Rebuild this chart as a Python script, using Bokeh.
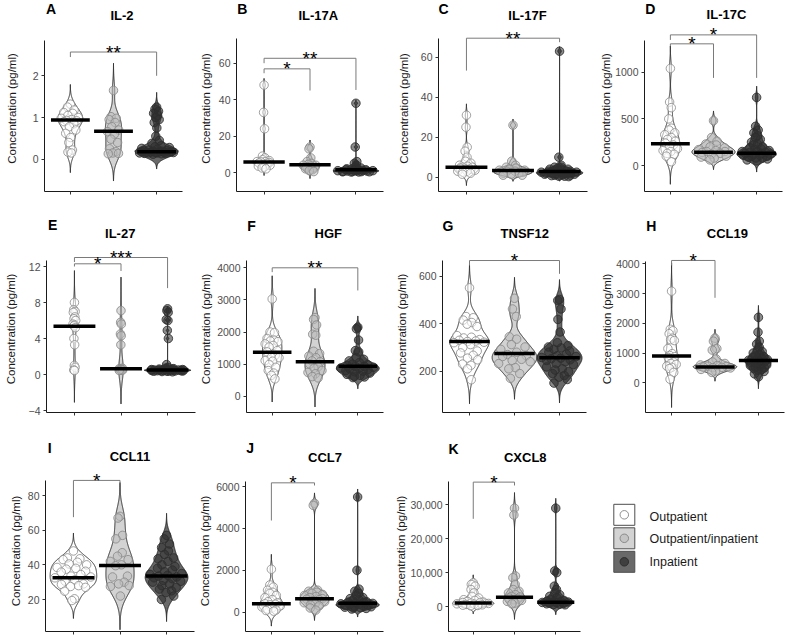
import numpy as np
from bokeh.plotting import figure
from bokeh.layouts import row, column
from bokeh.models import Range1d, FixedTicker, NumeralTickFormatter, ColumnDataSource
from bokeh.core.properties import value
from bokeh.embed import file_html
from bokeh.resources import INLINE

FONT = "Liberation Sans"

# ---------------------------------------------------------------- data
groups = ["Outpatient", "Outpatient/inpatient", "Inpatient"]
analytes = ["IL-2", "IL-17A", "IL-17F", "IL-17C", "IL-27", "HGF", "TNSF12",
            "CCL19", "CCL11", "CCL7", "CXCL8"]
panel_letters = ["A", "B", "C", "D", "E", "F", "G", "H", "I", "J", "K"]

il2_out = [1.32, 1.25, 1.18, 1.12, 1.10, 1.05, 1.00, 0.98, 0.95, 0.93, 0.92, 0.90, 0.85,
           0.78, 0.70, 0.62, 0.52, 0.40, 0.22, 0.17, 0.15]
il2_mix = [1.65, 1.02, 0.98, 0.95, 0.88, 0.78, 0.70, 0.66, 0.60, 0.48, 0.40, 0.25, 0.18,
           0.15, 0.14, 0.13]
il2_inp = [1.25, 1.20, 1.15, 1.10, 1.05, 1.00, 0.95, 0.88, 0.75, 0.55, 0.45, 0.38, 0.32,
           0.30, 0.28, 0.26, 0.24, 0.22, 0.21, 0.20, 0.19, 0.19, 0.18, 0.18, 0.18, 0.17,
           0.17, 0.17, 0.16, 0.16, 0.16, 0.15, 0.15, 0.15, 0.14, 0.14, 0.13, 0.12]

il17a_out = [48, 33, 24, 9, 8, 7, 6.5, 6, 6, 5.8, 5.5, 5.2, 5, 4.5, 4, 3.5, 3, 2.5, 2]
il17a_mix = [14, 13, 8, 6, 5, 4.5, 4, 4, 3.5, 3, 2.5, 2, 1.5, 1, 0.5]
il17a_inp = [38, 14, 6, 5, 4, 3, 2.5, 2, 2, 1.8, 1.5, 1.5, 1.2, 1.2, 1, 1, 1, 0.8, 0.8,
             0.6, 0.5, 0.5, 0.4, 0.4, 0.3, 0.3]

il17f_out = [31, 25, 15, 13, 10, 8, 7, 6, 5.5, 5, 5, 4.5, 4, 4, 3.5, 3, 3, 2.5, 2, 1.5]
il17f_mix = [26, 8, 6, 5, 4.5, 4, 3.5, 3.5, 3, 3, 2.5, 2, 2, 1.5, 1, 1]
il17f_inp = [63, 10, 6, 5, 5, 4.5, 4, 4, 3.5, 3.5, 3, 3, 3, 2.8, 2.5, 2.5, 2.5, 2.2, 2, 2,
             2, 1.8, 1.5, 1.5, 1.2, 1, 1, 0.8, 0.5, 0.5, 0.3]

il17c_out = [1040, 680, 620, 500, 400, 380, 350, 330, 300, 280, 260, 240, 220, 200, 180,
             160, 150, 130, 120, 100, 40]
il17c_mix = [480, 300, 260, 230, 220, 200, 190, 170, 160, 150, 150, 140, 130, 120, 100,
             90, 80, 60]
il17c_inp = [730, 420, 380, 350, 320, 300, 280, 250, 230, 220, 200, 190, 180, 170, 160,
             150, 150, 140, 140, 130, 130, 120, 120, 110, 110, 100, 100, 90, 80, 80, 70,
             60, 50]

il27_out = [8.0, 7.2, 7.0, 6.9, 6.4, 6.2, 6.0, 5.6, 5.5, 5.4, 5.2, 4.0, 3.3, 1.0, 0.8,
            0.5, 0.45]
il27_mix = [7.1, 5.8, 5.6, 4.5, 4.3, 3.3, 0.7, 0.65, 0.6, 0.6, 0.55, 0.55, 0.5, 0.5, 0.5,
            0.45]
il27_inp = [7.3, 7.1, 6.9, 6.1, 6.0, 4.9, 4.0, 1.1, 0.8, 0.7, 0.65, 0.6, 0.6, 0.58, 0.55,
            0.55, 0.52, 0.5, 0.5, 0.5, 0.5, 0.48, 0.48, 0.46, 0.45, 0.45, 0.44, 0.42, 0.4,
            0.4, 0.38, 0.36, 0.35, 0.33, 0.3]

hgf_out = [3030, 2000, 1980, 1800, 1750, 1720, 1700, 1630, 1580, 1530, 1420, 1380, 1270,
           1210, 1200, 1110, 1090, 990, 900, 800, 720, 650, 540]
hgf_mix = [2450, 2390, 2220, 1930, 1900, 1400, 1330, 1250, 1200, 1100, 1070, 1000, 920,
           870, 800, 740, 700, 610, 570]
hgf_inp = [2150, 2100, 1750, 1420, 1380, 1200, 1150, 1100, 1050, 1000, 980, 950, 930, 920,
           900, 880, 870, 850, 830, 800, 780, 760, 720, 680, 650, 620, 600, 580]

tnsf12_out = [551, 430, 425, 415, 405, 398, 388, 350, 343, 340, 333, 330, 327, 325, 322,
              320, 312, 300, 285, 277, 267, 255, 248, 230, 225, 210, 164]
tnsf12_mix = [507, 462, 430, 345, 335, 312, 302, 292, 280, 270, 265, 262, 250, 245, 240,
              232, 215, 210, 190, 170]
tnsf12_inp = [502, 498, 462, 418, 365, 320, 308, 302, 298, 292, 285, 280, 272, 265, 262,
              258, 255, 252, 248, 245, 240, 232, 228, 218, 210, 205, 198, 190, 182, 175,
              165, 150]

ccl19_out = [3080, 1800, 1750, 1650, 1500, 1450, 1420, 1150, 980, 920, 880, 850, 700, 650,
             620, 560, 520, 480, 350, 120]
ccl19_mix = [1500, 1400, 1150, 1100, 800, 700, 650, 600, 580, 560, 550, 530, 520, 510, 500,
             450, 400, 350]
ccl19_inp = [2200, 1700, 1400, 1300, 1200, 1100, 1050, 1000, 950, 900, 880, 850, 820, 800,
             780, 760, 740, 720, 700, 680, 650, 630, 600, 580, 550, 520, 500, 480, 450,
             420, 380, 300, 200]

ccl11_out = [48, 44, 43.5, 43, 41.5, 40.5, 40, 38.5, 38, 37.5, 36.3, 35.8, 34.4, 33.5, 33,
             32.5, 31.3, 30.6, 29, 28.7, 28, 27.5, 27, 24.8, 20.4, 19.4]
ccl11_mix = [68, 67, 57, 55, 47, 45, 43, 42, 40, 39.5, 33.5, 33, 30, 29, 28, 27.5, 22]
ccl11_inp = [57, 55, 52, 50, 48, 46, 44, 43.5, 42, 40, 39, 38, 37, 36, 35, 34.5, 34, 33.5,
             33, 32.5, 32, 31, 30.5, 30, 29, 28, 27, 26, 25, 24, 22, 20]

ccl7_out = [2050, 1300, 1200, 1050, 950, 900, 800, 700, 600, 500, 450, 400, 380, 350, 300,
            250, 200, 150, 100, 80, 50]
ccl7_mix = [5200, 5100, 1050, 1000, 950, 900, 850, 800, 750, 700, 650, 620, 600, 550, 500,
            450, 400, 350, 300, 200, 100]
ccl7_inp = [5500, 2000, 1100, 1000, 900, 800, 700, 650, 600, 550, 500, 480, 460, 440, 420,
            400, 380, 360, 340, 320, 300, 280, 260, 240, 220, 200, 180, 150]

cxcl8_out = [7000, 6500, 6000, 5000, 4000, 3000, 2500, 2000, 1800, 1500, 1300, 1200, 1100,
             1000, 900, 800, 700, 600, 500, 400, 300, 200]
cxcl8_mix = [29000, 27000, 9000, 8500, 6500, 5000, 4500, 4000, 3500, 3000, 2800, 2500,
             2200, 2000, 1800, 1500, 1000, 800]
cxcl8_inp = [29000, 10500, 10000, 6000, 5000, 4000, 3500, 3000, 2500, 2000, 1800, 1600,
             1500, 1400, 1300, 1200, 1100, 1000, 900, 800, 700, 600, 500]

values = {
    "IL-2": (il2_out, il2_mix, il2_inp),
    "IL-17A": (il17a_out, il17a_mix, il17a_inp),
    "IL-17F": (il17f_out, il17f_mix, il17f_inp),
    "IL-17C": (il17c_out, il17c_mix, il17c_inp),
    "IL-27": (il27_out, il27_mix, il27_inp),
    "HGF": (hgf_out, hgf_mix, hgf_inp),
    "TNSF12": (tnsf12_out, tnsf12_mix, tnsf12_inp),
    "CCL19": (ccl19_out, ccl19_mix, ccl19_inp),
    "CCL11": (ccl11_out, ccl11_mix, ccl11_inp),
    "CCL7": (ccl7_out, ccl7_mix, ccl7_inp),
    "CXCL8": (cxcl8_out, cxcl8_mix, cxcl8_inp),
}

medians = {
    "IL-2": [0.94, 0.67, 0.18],
    "IL-17A": [5.8, 4.2, 1.5],
    "IL-17F": [5.0, 3.3, 2.8],
    "IL-17C": [232, 143, 132],
    "IL-27": [5.37, 0.63, 0.5],
    "HGF": [1370, 1070, 930],
    "TNSF12": [325, 275, 257],
    "CCL19": [900, 527, 750],
    "CCL11": [32.5, 39.6, 33.5],
    "CCL7": [398, 637, 430],
    "CXCL8": [1000, 2750, 1280],
}

# (group a, group b, bar level, tip at a, tip at b, stars)
comparisons = {
    "IL-2": [(1, 3, 2.57, 2.45, 2.0, "**")],
    "IL-17A": [(1, 2, 56.9, 54.5, 45, "*"), (1, 3, 62.7, 60, 45.3, "**")],
    "IL-17F": [(1, 3, 69.5, 53.3, 67.5, "**")],
    "IL-17C": [(1, 2, 1304, 1279, 939, "*"), (1, 3, 1400, 1346, 939, "*")],
    "IL-27": [(1, 2, 12.3, 12.0, 11.5, "*"), (1, 3, 13.0, 12.5, 9.6, "***")],
    "HGF": [(1, 3, 4000, 3865, 3294, "**")],
    "TNSF12": [(1, 3, 666, 645, 610, "*")],
    "CCL19": [(1, 2, 4112, 3944, 2857, "*")],
    "CCL11": [(1, 2, 88.7, 67.5, 86.7, "*")],
    "CCL7": [(1, 2, 6175, 4377, 6048, "*")],
    "CXCL8": [(1, 2, 36690, 25870, 35700, "*")],
}

y_ticks = {
    "IL-2": [0, 1, 2],
    "IL-17A": [0, 20, 40, 60],
    "IL-17F": [0, 20, 40, 60],
    "IL-17C": [0, 500, 1000],
    "IL-27": [-4, 0, 4, 8, 12],
    "HGF": [0, 1000, 2000, 3000, 4000],
    "TNSF12": [200, 400, 600],
    "CCL19": [0, 1000, 2000, 3000, 4000],
    "CCL11": [20, 40, 60, 80],
    "CCL7": [0, 2000, 4000, 6000],
    "CXCL8": [0, 10000, 20000, 30000],
}

# ---------------------------------------------------------------- page geometry
COL_X = [0, 196, 392, 588]
COL_W = [196, 196, 196, 197]
ROW_Y = [0, 210, 420]
ROW_H = [210, 210, 217]
HEAD_H = [22, 30, 45]          # strip above each plot that holds letter and title
FRAME_TOP = [25, 245, 470]
FRAME_BOTTOM = [191, 412, 631]

# cell, pixel x of first/third group, two (value, pixel y) references,
# pixel y of axis top, title centre, letter position, y-title centre x
geometry = {
    "IL-2":   dict(cell=(0, 0), gx=(70, 156), yref=((0, 158.7), (2, 75.3)), top=40,
                   title=(110, 15), letter=(2, 8), ylab=14),
    "IL-17A": dict(cell=(1, 0), gx=(263, 355), yref=((0, 172), (60, 62.7)), top=38.3,
                   title=(305, 15), letter=(197, 8), ylab=207),
    "IL-17F": dict(cell=(2, 0), gx=(466, 559), yref=((0, 176.7), (60, 56.7)), top=38.3,
                   title=(509, 15), letter=(392, 8), ylab=406),
    "IL-17C": dict(cell=(3, 0), gx=(670, 756), yref=((0, 165), (1000, 71.7)), top=40,
                   title=(705, 14), letter=(589, 8), ylab=609),
    "IL-27":  dict(cell=(0, 1), gx=(74, 166.7), yref=((0, 374), (12, 266)), top=260,
                   title=(97, 233), letter=(2, 224), ylab=12.5),
    "HGF":    dict(cell=(1, 1), gx=(271.7, 357.3), yref=((0, 395.7), (4000, 267.3)), top=260,
                   title=(313, 233), letter=(197, 225), ylab=208),
    "TNSF12": dict(cell=(2, 1), gx=(469.3, 559), yref=((200, 370.7), (600, 275.7)), top=260,
                   title=(504, 233), letter=(392, 225), ylab=404),
    "CCL19":  dict(cell=(3, 1), gx=(671, 757.7), yref=((0, 382.3), (4000, 263.3)), top=260.7,
                   title=(704, 233), letter=(589, 225), ylab=609),
    "CCL11":  dict(cell=(0, 2), gx=(72.7, 165.7), yref=((20, 599), (80, 495)), top=480,
                   title=(111, 456), letter=(3, 447), ylab=17.5),
    "CCL7":   dict(cell=(1, 2), gx=(271, 357.3), yref=((0, 611.7), (6000, 486)), top=480.7,
                   title=(309, 457), letter=(197, 447), ylab=207.5),
    "CXCL8":  dict(cell=(2, 2), gx=(471.7, 555), yref=((0, 606), (30000, 504.3)), top=480.7,
                   title=(506, 457), letter=(392, 448), ylab=404),
}

VIOLIN_FILL = ["#ffffff", "#d3d3d3", "#696969"]
POINT_FILL = ["#ffffff", "#bdbdbd", "#2e2e2e"]
POINT_LINE = ["#8f8f8f", "#8a8a8a", "#2e2e2e"]
VIOLIN_WIDTH = 1.0


def bw_nrd0(x):
    hi = x.std(ddof=1)
    q75, q25 = np.percentile(x, [75, 25])
    lo = min(hi, (q75 - q25) / 1.34)
    if lo == 0:
        lo = hi or abs(x[0]) or 1.0
    return 0.9 * lo * len(x) ** -0.2


def density(x):
    bw = bw_nrd0(x)
    grid = np.linspace(x.min() - 3 * bw, x.max() + 3 * bw, 512)
    d = np.exp(-0.5 * ((grid[:, None] - x[None, :]) / bw) ** 2).sum(1)
    return grid, d / (len(x) * bw * np.sqrt(2 * np.pi))


def van_der_corput(n):
    out = []
    for i in range(1, n + 1):
        v, denom, k = 0.0, 1.0, i
        while k:
            denom *= 2
            k, r = divmod(k, 2)
            v += r / denom
        out.append(v)
    return np.array(out)


def label_width(s, size):
    w = 0.0
    for ch in s:
        w += 0.556 if ch.isdigit() else (0.278 if ch in ",." else 0.584)
    return w * size


def blank(width, height, x_start, y_top):
    """A figure without axes whose data units are page pixels (y grows downwards)."""
    f = figure(width=width, height=height, x_range=Range1d(x_start, x_start + width),
               y_range=Range1d(y_top + height, y_top), min_border=0,
               toolbar_location=None, output_backend="svg",
               x_axis_location=None, y_axis_location=None, outline_line_color=None,
               background_fill_color="white", border_fill_color="white")
    f.grid.visible = False
    return f


def make_header(k, name):
    g = geometry[name]
    c, r = g["cell"]
    hdr = blank(COL_W[c], HEAD_H[r], COL_X[c], ROW_Y[r])
    hdr.text(x=[g["letter"][0]], y=[g["letter"][1]], text=[panel_letters[k]],
             text_font=value(FONT), text_font_size=value("14px"), text_font_style="bold",
             text_align="left", text_baseline="middle", text_color="black")
    hdr.text(x=[g["title"][0]], y=[g["title"][1]], text=[name],
             text_font=value(FONT), text_font_size=value("13px"), text_font_style="bold",
             text_align="center", text_baseline="middle", text_color="black")
    return hdr


def make_panel(name):
    g = geometry[name]
    c, r = g["cell"]
    x0, w = COL_X[c], COL_W[c]
    y0, h = ROW_Y[r] + HEAD_H[r], ROW_H[r] - HEAD_H[r]
    ppu_x = (g["gx"][1] - g["gx"][0]) / 2
    ml = int(round(g["gx"][0] - 0.6 * ppu_x - x0))
    mr = int(round(x0 + w - (g["gx"][1] + 0.6 * ppu_x)))
    f_left = x0 + ml
    (va, pa), (vb, pb) = g["yref"]
    ppu_y = (pa - pb) / (vb - va)

    def yval(py):
        return va + (pa - py) / ppu_y

    ftop, fbot = FRAME_TOP[r], FRAME_BOTTOM[r]
    y_lo, y_hi = yval(fbot), yval(ftop)

    p = figure(width=w, height=h, x_range=Range1d(0.4, 3.6), y_range=Range1d(y_lo, y_hi),
               min_border_left=ml, min_border_right=mr,
               min_border_top=ftop - y0, min_border_bottom=y0 + h - fbot,
               toolbar_location=None, output_backend="svg",
               background_fill_color="white", border_fill_color="white",
               outline_line_color=None)
    p.grid.visible = False

    # axes: unlabeled group ticks below, bounded value axis on the left
    ticks = y_ticks[name]
    p.xaxis.ticker = FixedTicker(ticks=[], minor_ticks=[1, 2, 3])
    p.xaxis.minor_tick_out = 3
    p.xaxis.minor_tick_in = 0
    p.xaxis.minor_tick_line_color = "#333333"
    p.xaxis.major_label_standoff = 0
    p.yaxis.ticker = FixedTicker(ticks=ticks)
    p.yaxis.bounds = (y_lo, yval(g["top"]))
    if name == "CXCL8":
        p.yaxis.formatter = NumeralTickFormatter(format="0,0")
        tick_text = ["{:,}".format(t) for t in ticks]
    else:
        tick_text = [str(t) for t in ticks]
    for ax in (p.xaxis[0], p.yaxis[0]):
        ax.axis_line_color = "#1a1a1a"
        ax.axis_line_width = 1
        ax.major_tick_line_color = "#333333"
        ax.major_tick_out = 3
        ax.major_tick_in = 0
    p.yaxis.minor_tick_line_color = None
    p.yaxis.major_label_standoff = 3
    p.yaxis.major_label_text_font = FONT
    p.yaxis.major_label_text_font_size = "10.5px"
    p.yaxis.major_label_text_color = "#4d4d4d"
    p.yaxis.axis_label = "Concentration (pg/ml)"
    p.yaxis.axis_label_text_font = FONT
    p.yaxis.axis_label_text_font_size = "11.5px"
    p.yaxis.axis_label_text_font_style = "normal"
    p.yaxis.axis_label_text_color = "#1a1a1a"
    lw = max(label_width(t, 10.5) for t in tick_text)
    p.yaxis.axis_label_standoff = max(0, int(round((f_left - 6 - lw) - (g["ylab"] + 6.5))))

    # violins, computed per group and scaled so that every violin has the same area
    dens = [density(np.asarray(v, float)) for v in values[name]]
    dmax = max(d.max() for _, d in dens)
    for i, (grid, d) in enumerate(dens):
        half = d / dmax * VIOLIN_WIDTH / 2
        xs = np.concatenate([(i + 1) - half, ((i + 1) + half)[::-1]])
        ys = np.concatenate([grid, grid[::-1]])
        p.patch(xs, ys, fill_color=VIOLIN_FILL[i], line_color="#1a1a1a", line_width=0.9)

    # points spread inside the violin outline (quasi-random sina layout)
    for i, (grid, d) in enumerate(dens):
        yv = np.asarray(values[name][i], float)
        half = d / dmax * VIOLIN_WIDTH / 2
        u = 2 * van_der_corput(len(yv)) - 1
        xv = (i + 1) + u * np.interp(yv, grid, half) * 0.85
        p.scatter(xv, yv, marker="circle", size=8.5, fill_color=POINT_FILL[i],
                  fill_alpha=0.55, line_color=POINT_LINE[i], line_alpha=0.85, line_width=1)

    # median bars
    med = medians[name]
    p.segment(x0=[1 - 0.45, 2 - 0.45, 3 - 0.45], x1=[1 + 0.45, 2 + 0.45, 3 + 0.45],
              y0=med, y1=med, line_color="black", line_width=3.5)

    # significance brackets
    comps = comparisons[name]
    p.multi_line(xs=[[a, a, b, b] for a, b, *_ in comps],
                 ys=[[ta, lvl, lvl, tb] for _, _, lvl, ta, tb, _ in comps],
                 line_color="#7a7a7a", line_width=1)
    star_src = ColumnDataSource(dict(x=[(a + b) / 2 for a, b, *_ in comps],
                                     y=[c[2] for c in comps],
                                     t=[c[5] for c in comps]))
    p.text(x="x", y="y", text="t", source=star_src, text_font=value(FONT),
           text_font_size=value("19px"), text_align="center", text_baseline="middle",
           text_color="black")
    return p


cells = [column(make_header(k, n), make_panel(n)) for k, n in enumerate(analytes)]

# legend cell
leg = blank(197, 217, 588, 420)
key_y = [514.3, 537.8, 561.3]
leg.rect(x=[623.8] * 3, y=key_y, width=21, height=21, fill_color=VIOLIN_FILL,
         line_color="#4d4d4d", line_width=1)
leg.scatter(x=[623.8] * 3, y=key_y, marker="circle", size=8.5, fill_color=POINT_FILL,
            fill_alpha=0.7, line_color=POINT_LINE, line_width=1)
leg.text(x=[649] * 3, y=[516.5, 538.5, 561.5], text=groups, text_font=value(FONT),
         text_font_size=value("12.5px"), text_baseline="middle", text_color="#1a1a1a")

layout = column(row(*cells[0:4]), row(*cells[4:8]), row(*(cells[8:11] + [leg])))

open("out.html", "w").write(file_html(layout, INLINE))
